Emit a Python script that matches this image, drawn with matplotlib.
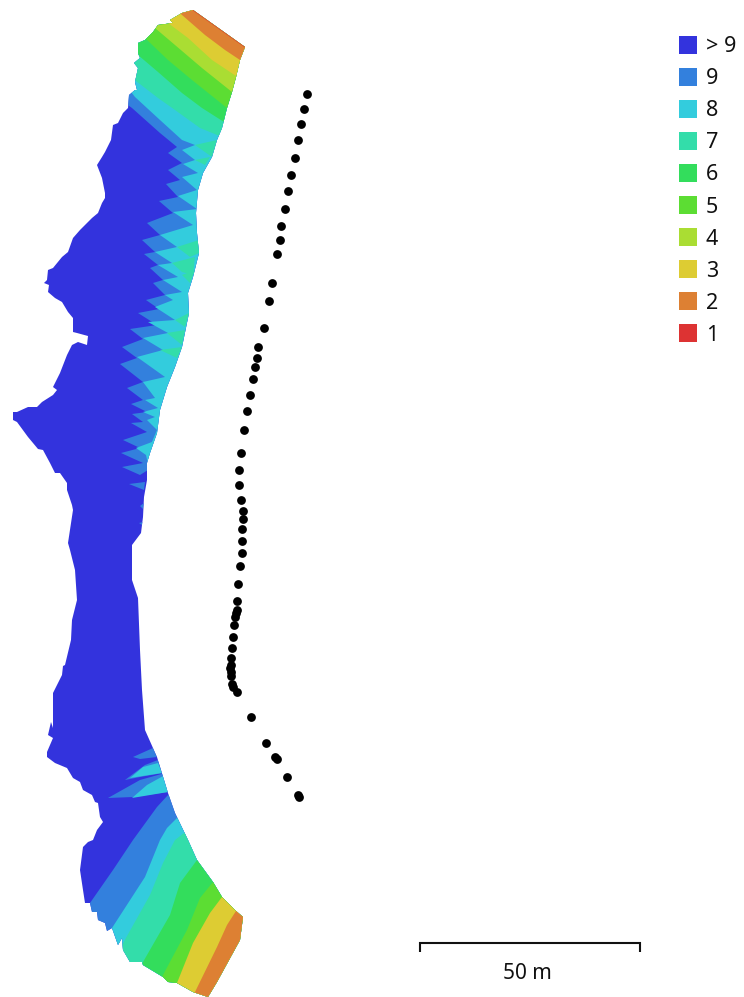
import matplotlib
matplotlib.use("Agg")
import matplotlib.pyplot as plt
from matplotlib.patches import Polygon, Rectangle

# legend
class_labels = ["> 9", "9", "8", "7", "6", "5", "4", "3", "2", "1"]
class_colors = ["#3333DD", "#3380DD", "#33CCDD", "#33DDAA", "#33DD5C",
                "#5CDD33", "#AADD33", "#DDCC33", "#DD8033", "#DD3333"]

# survey outline (image pixel coordinates)
outline = [(193,10),(245,47),(240,60),(236,77),(232,92),(227,108),(222,128),(217,140),(212,157),(203,173),(198,190),
 (196,213),(197,233),(199,253),(193,277),(188,293),(189,313),(182,347),(175,367),(167,387),(160,410),
 (157,433),(150,453),(147,463),(147,480),(144,497),(143,517),(141,533),(132,545),(132,580),(138,598),
 (140,650),(142,690),(145,730),(157,757),(168,793),(175,813),(188,840),(197,860),(213,882),(222,897),(236,911),
 (243,917),(240,940),(217,982),(208,997),(193,992),(177,983),(168,982),(163,977),(143,965),(142,962),(130,962),
 (123,950),(122,938),(118,945),(112,928),(107,931),(105,923),(98,920),(97,912),(92,912),(90,903),(85,903),
 (83,890),(80,870),(83,847),(88,842),(93,840),(97,830),(103,822),(100,817),(98,803),(95,802),(92,795),(83,790),
 (80,782),(73,778),(67,768),(55,763),(47,757),(47,752),(53,738),(48,735),(51,722),(53,728),(53,708),(53,693),
 (62,675),(63,666),(65,665),(71,640),(72,620),(77,600),(75,570),(70,550),(68,543),(73,510),(72,505),(67,490),
 (67,483),(60,473),(55,473),(50,463),(43,450),(38,449),(28,437),(17,422),(13,420),(13,412),(17,412),(28,407),
 (37,407),(42,402),(53,395),(57,390),(53,387),(60,373),(67,355),(72,345),(78,342),(87,345),(88,336),(77,333),
 (73,332),(73,318),(68,312),(62,302),(55,298),(48,292),(49,285),(44,283),(47,280),(48,270),(53,268),(62,257),
 (68,252),(73,238),(80,230),(92,218),(98,213),(102,203),(105,198),(105,193),(102,178),(97,165),(102,157),
 (105,152),(111,140),(113,125),(118,123),(123,113),(128,108),(129,95),(135,90),(137,90),(135,82),(138,68),
 (134,63),(140,58),(138,53),(138,43),(145,40),(153,32),(158,25),(173,23),(170,20),(182,13)]

# upper part: class boundaries
upper_9 = [(125,103),(132,108),(160,133),(177,147),(168,153),(182,163),(168,170),(180,180),(166,184),(178,197),(159,201),
 (173,213),(147,223),(160,235),(142,240),(155,252),(144,254),(158,265),(150,268),(163,280),(153,283),(165,295),
 (146,300),(159,309),(138,313),(157,325),(130,329),(143,339),(122,347),(137,358),(120,364),(143,382),(127,388),
 (143,400),(131,404),(147,412),(132,414),(143,422),(131,423),(147,432),(123,440),(140,448),(121,453),(143,463),
 (122,467),(140,475),(148,470),(300,470),(300,0),(125,0)]
upper_8 = [(128,88),(135,97),(160,120),(182,140),(195,145),(182,150),(195,160),(183,164),(198,173),(182,177),
 (197,190),(178,196),(197,209),(173,212),(193,225),(160,235),(177,247),(155,252),(172,263),(158,265),(178,277),
 (163,280),(182,292),(165,295),(173,300),(155,307),(175,320),(148,322),(168,333),(143,338),(163,350),(137,357),
 (165,377),(143,382),(155,398),(145,400),(158,408),(143,412),(155,417),(147,420),(157,430),(152,442),(136,448),
 (146,455),(148,464),(300,464),(300,0),(128,0)]
upper_7 = [(130,76),(136,81),(158,98),(175,110),(200,128),(222,137),(250,140),(300,140),(300,0),(130,0)]
upper_6 = [(132,50),(138,55),(158,72),(182,93),(202,108),(224,122),(250,135),(300,135),(300,0),(132,0)]
upper_5 = [(138,32),(145,38),(168,60),(192,80),(227,108),(250,120),(300,120),(300,0),(138,0)]
upper_4 = [(149,23),(155,28),(175,45),(202,68),(232,92),(250,105),(300,105),(300,0),(149,0)]
upper_3 = [(162,18),(168,23),(188,38),(212,60),(236,76),(250,85),(300,85),(300,0),(162,0)]
upper_2 = [(176,10),(182,15),(205,35),(225,50),(240,60),(255,70),(300,70),(300,0),(176,0)]
upper_1 = [(193,10.6),(245,47.6),(255,55),(300,55),(300,0),(193,0)]

# green patches along the right edge
edge_7 = [[(195,145),(217,140),(212,157)],[(195,160),(210,157),(205,165)],
 [(177,247),(199,240),(199,253),(190,257)],[(172,263),(195,257),(193,275),(182,272)],
 [(182,275),(195,270),(190,283)],[(175,320),(189,313),(185,327)],
 [(167,333),(185,330),(182,345)],[(160,350),(182,347),(177,358)]]

# isolated patches of class 9 and 8
patch_9 = [[(129,484),(145,482),(144,490)],[(140,506),(144,503),(143,509)],[(139,523),(143,522),(142,525)],
 [(133,757),(153,748),(157,757),(140,759)],
 [(125,780),(145,765),(158,760),(163,773),(140,777)],
 [(108,798),(140,780),(165,773),(168,792),(133,797)]]
patch_8 = [[(130,778),(143,767),(158,763),(162,773)],[(132,798),(147,785),(165,775),(168,792)]]

# lower part: class boundaries
lower_9 = [(85,912),(90,903),(113,870),(133,840),(157,807),(168,795),(180,790),(300,790),(300,997),(85,997)]
lower_8 = [(107,938),(112,928),(145,877),(160,840),(167,828),(177,818),(185,810),(300,810),(300,997),(107,997)]
lower_7 = [(117,955),(122,945),(150,895),(163,863),(175,840),(184,833),(195,825),(300,825),(300,997),(117,997)]
lower_6 = [(138,972),(143,962),(170,915),(180,883),(197,860),(205,850),(300,850),(300,997),(138,997)]
lower_5 = [(158,985),(163,975),(187,930),(200,898),(213,882),(220,875),(300,875),(300,997),(158,997)]
lower_3 = [(173,993),(177,983),(193,943),(210,913),(222,897),(230,890),(300,890),(300,997),(173,997)]
lower_2 = [(191,997),(195,992),(217,947),(227,925),(236,911),(245,905),(300,905),(300,997),(191,997)]

# camera positions
cam_x = [307,304,301,298,295,291,288,285,281,280,277,272,269,264,258,257,255,253,250,247,244,241,239,239,241,
         243,243,242,242,242,240,238,237,237,236,235,234,233,232,231,231,230,231,231,232,233,237,251,266,275,277,287,298,299]
cam_y = [94,109,124,140,158,175,191,209,226,240,254,283,301,328,347,358,367,379,395,411,430,453,470,485,500,
         511,519,529,541,553,566,584,601,610,613,617,625,637,648,658,665,668,672,676,684,687,692,717,743,757,759,777,795,797]

# scale bar
scale_x = [420, 639.5]
scale_label = "50 m"

plt.rcParams["font.family"] = ["Noto Sans", "DejaVu Sans"]
fig = plt.figure(figsize=(7.44, 9.97), dpi=100)
ax = fig.add_axes([0, 0, 1, 1])
ax.set_xlim(0, 744)
ax.set_ylim(997, 0)
ax.axis("off")

base = Polygon(outline, closed=True, fc=class_colors[0], ec="none", zorder=1)
ax.add_patch(base)

def fill(points, color, z):
    p = Polygon(points, closed=True, fc=color, ec="none", zorder=z)
    ax.add_patch(p)
    p.set_clip_path(base)

for pts, col in [(upper_9, 1), (upper_8, 2)]:
    fill(pts, class_colors[col], 2)
for group, col in [(patch_9, 1), (patch_8, 2), (edge_7, 3)]:
    for pts in group:
        fill(pts, class_colors[col], 3)
for pts, col in [(upper_7, 3), (upper_6, 4), (upper_5, 5), (upper_4, 6),
                 (upper_3, 7), (upper_2, 8), (upper_1, 9)]:
    fill(pts, class_colors[col], 4)
for pts, col in [(lower_9, 1), (lower_8, 2), (lower_7, 3), (lower_6, 4),
                 (lower_5, 5), (lower_3, 7), (lower_2, 8)]:
    fill(pts, class_colors[col], 4)

ax.scatter(cam_x, cam_y, s=40, c="black", linewidths=0, zorder=6)

for i, (lab, col) in enumerate(zip(class_labels, class_colors)):
    ax.add_patch(Rectangle((678.5, 36 + 32 * i), 18, 18, fc=col, ec="none", zorder=5))
    ax.text(706, 44.5 + 32 * i, lab, fontsize=15.5, color="#111111", va="center_baseline", ha="left", zorder=5)

ax.plot([scale_x[0], scale_x[0], scale_x[1], scale_x[1]], [952, 943, 943, 952],
        color="#111111", lw=1.5, solid_joinstyle="miter", solid_capstyle="butt", zorder=5)
ax.text(sum(scale_x) / 2 - 2, 971, scale_label, fontsize=15, color="#111111", ha="center", va="center_baseline", zorder=5)

fig.savefig("out.png", dpi=100)
